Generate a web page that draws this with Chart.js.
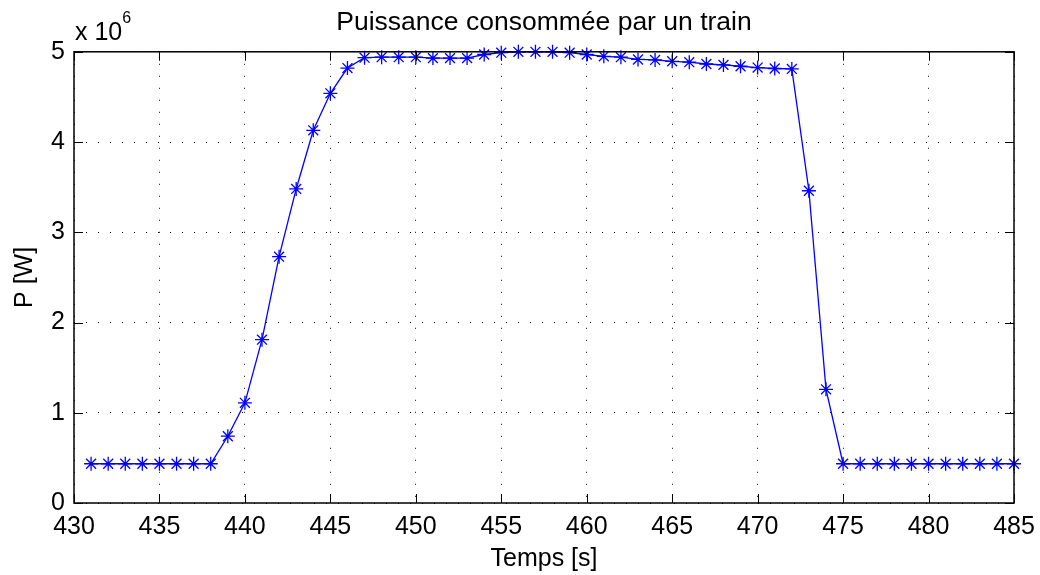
<!DOCTYPE html>
<html>
<head>
<meta charset="utf-8">
<script src="https://cdn.jsdelivr.net/npm/chart.js@4/dist/chart.umd.min.js"></script>
<style>
  html, body { margin: 0; padding: 0; background: #fff; }
  #wrap { width: 1040px; height: 575px; }
</style>
</head>
<body>
<div id="wrap"><canvas id="trainChart"></canvas></div>
<script>
// Temps [s]
const times = [431, 432, 433, 434, 435, 436, 437, 438, 439, 440,
    441, 442, 443, 444, 445, 446, 447, 448, 449, 450,
    451, 452, 453, 454, 455, 456, 457, 458, 459, 460,
    461, 462, 463, 464, 465, 466, 467, 468, 469, 470,
    471, 472, 473, 474, 475, 476, 477, 478, 479, 480,
    481, 482, 483, 484, 485];
// P [W] / 1e6
const power = [0.435, 0.435, 0.435, 0.435, 0.435, 0.435, 0.435, 0.435, 0.74, 1.11,
    1.81, 2.73, 3.48, 4.13, 4.54, 4.82, 4.935, 4.94, 4.94, 4.94,
    4.93, 4.93, 4.93, 4.97, 4.99, 5.0, 5.0, 5.0, 4.99, 4.97,
    4.95, 4.94, 4.915, 4.91, 4.895, 4.885, 4.865, 4.855, 4.84, 4.825,
    4.815, 4.81, 3.46, 1.26, 0.435, 0.435, 0.435, 0.435, 0.435, 0.435,
    0.435, 0.435, 0.435, 0.435, 0.435];
const xTicks = [430, 435, 440, 445, 450, 455, 460, 465, 470, 475, 480, 485];
const yTicks = [0, 1, 2, 3, 4, 5];

const FONT = 'Liberation Sans, Arial, Helvetica, sans-serif';

// matlab style frame + inward ticks + x 10^6 label
const matlabFrame = {
    id: 'matlabFrame',
    afterDraw(chart) {
        const ctx = chart.ctx;
        const a = chart.chartArea;
        const xs = chart.scales.x, ys = chart.scales.y;
        ctx.save();
        ctx.strokeStyle = '#000';
        ctx.lineWidth = 1;
        ctx.beginPath();
        xTicks.forEach(t => {
            const px = Math.round(xs.getPixelForValue(t)) + 0.5;
            ctx.moveTo(px, a.bottom); ctx.lineTo(px, a.bottom - 9);
            ctx.moveTo(px, a.top); ctx.lineTo(px, a.top + 9);
        });
        yTicks.forEach(t => {
            const py = Math.round(ys.getPixelForValue(t)) + 0.5;
            ctx.moveTo(a.left, py); ctx.lineTo(a.left + 9, py);
            ctx.moveTo(a.right, py); ctx.lineTo(a.right - 9, py);
        });
        ctx.stroke();
        ctx.lineWidth = 1.5;
        ctx.strokeRect(a.left, a.top, a.right - a.left, a.bottom - a.top);

        ctx.fillStyle = '#000';
        ctx.textBaseline = 'alphabetic';
        ctx.textAlign = 'left';
        ctx.font = '25px ' + FONT;
        ctx.fillText('x 10', a.left + 1, 40);
        const w = ctx.measureText('x 10').width;
        ctx.font = '16px ' + FONT;
        ctx.fillText('6', a.left + 1 + w, 23);
        ctx.restore();
    }
};

const ctx = document.getElementById('trainChart').getContext('2d');
new Chart(ctx, {
    type: 'line',
    data: {
        labels: times,
        datasets: [{
            data: times.map((t, i) => ({ x: t, y: power[i] })),
            borderColor: '#0000ff',
            backgroundColor: '#0000ff',
            borderWidth: 1.3,
            pointStyle: 'star',
            pointRadius: 7,
            pointBorderWidth: 1.3,
            pointBorderColor: '#0000ff',
            pointHoverRadius: 7,
            tension: 0,
            clip: false
        }]
    },
    options: {
        responsive: true,
        maintainAspectRatio: false,
        animation: false,
        events: [],
        layout: { padding: { left: 0, right: 26, top: 0, bottom: 0 } },
        plugins: {
            legend: { display: false },
            tooltip: { enabled: false },
            title: {
                display: true,
                fullSize: false,
                text: 'Puissance consommée par un train',
                color: '#000',
                font: { family: FONT, size: 26.5, weight: 'normal', lineHeight: 1.2 },
                padding: { top: 7, bottom: 13 }
            }
        },
        scales: {
            x: {
                type: 'linear',
                min: 430, max: 485,
                afterBuildTicks: s => { s.ticks = xTicks.map(v => ({ value: v })); },
                afterFit: s => { s.height = 72; s.paddingLeft = 0; s.paddingRight = 0; },
                grid: { color: '#000', lineWidth: 1, drawTicks: false },
                border: { display: false, dash: [1, 11] },
                ticks: { color: '#000', padding: 9, maxRotation: 0, font: { family: FONT, size: 25 } },
                title: { display: true, text: 'Temps [s]', color: '#000', padding: { top: 0, bottom: 1 }, font: { family: FONT, size: 25 } }
            },
            y: {
                min: 0, max: 5,
                afterBuildTicks: s => { s.ticks = yTicks.map(v => ({ value: v })); },
                afterFit: s => { s.width = 74; },
                grid: { color: '#000', lineWidth: 1, drawTicks: false },
                border: { display: false, dash: [1, 11] },
                ticks: { color: '#000', padding: 9, font: { family: FONT, size: 25 } },
                title: { display: true, text: 'P [W]', color: '#000', padding: { top: 10, bottom: 0 }, font: { family: FONT, size: 25 } }
            }
        }
    },
    plugins: [matlabFrame]
});
</script>
</body>
</html>
